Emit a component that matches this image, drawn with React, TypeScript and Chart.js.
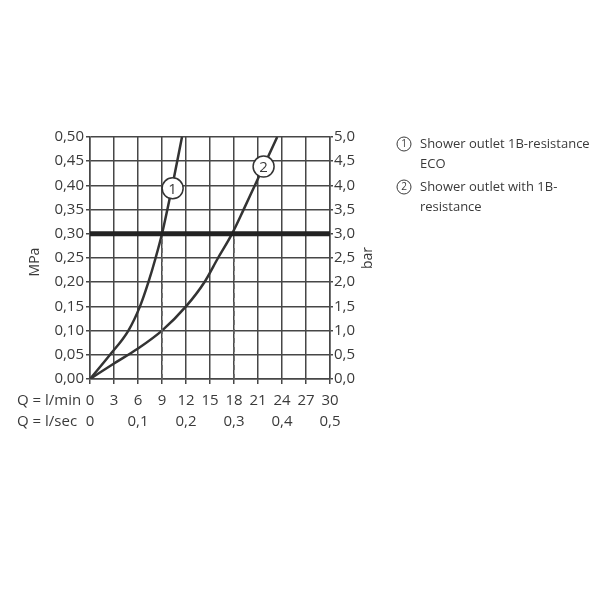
import React, { useEffect, useRef } from "react";
import { Chart, registerables } from "chart.js";
Chart.register(...registerables);

// Curve 1: Shower outlet 1B-resistance ECO  (flow l/min, pressure MPa)
const curve1Flow = [0, 2.5, 4.8, 6.25, 7.3, 8.2, 9.0, 10.3, 11.5];
const curve1Pressure = [0, 0.05, 0.10, 0.15, 0.20, 0.25, 0.30, 0.40, 0.50];
// Curve 2: Shower outlet with 1B-resistance
const curve2Flow = [0, 3.0, 6.0, 9.0, 12.0, 14.3, 16.0, 17.75, 19.2, 20.6, 23.4];
const curve2Pressure = [0, 0.032, 0.063, 0.10, 0.15, 0.20, 0.25, 0.30, 0.35, 0.40, 0.50];
// reference pressure line and flow readings at that pressure
const refPressure = 0.30;
const refFlows = [9, 18];
// curve label anchors (flow, pressure)
const labelPoints = [
  { text: "1", x: 10.33, y: 0.394 },
  { text: "2", x: 21.7, y: 0.439 },
];
const legendLines = [
  { mark: "1", lines: ["Shower outlet 1B-resistance", "ECO"] },
  { mark: "2", lines: ["Shower outlet with 1B-", "resistance"] },
];
const xTitleMin = "Q = l/min";
const xTitleSec = "Q = l/sec";
const yTitleLeft = "MPa";
const yTitleRight = "bar";

const FONT = "'Open Sans', 'Liberation Sans', sans-serif";
const TXT = "#3a3a3a";
const GRID = "#474747";

const toPts = (xs: number[], ys: number[]) => xs.map((x, i) => ({ x, y: ys[i] }));

export default function App() {
  const ref = useRef<HTMLCanvasElement>(null);
  useEffect(() => {
    if (!ref.current) return;
    const textPlugin = {
      id: "texts",
      afterDatasetsDraw(chart: any) {
        const ctx = chart.ctx;
        const xs = chart.scales.x;
        const ys = chart.scales.y;
        ctx.save();
        for (const lp of labelPoints) {
          const px = xs.getPixelForValue(lp.x);
          const py = ys.getPixelForValue(lp.y);
          ctx.beginPath();
          ctx.arc(px, py, 10.5, 0, Math.PI * 2);
          ctx.fillStyle = "#fff";
          ctx.fill();
          ctx.lineWidth = 1.5;
          ctx.strokeStyle = "#333";
          ctx.stroke();
          ctx.fillStyle = TXT;
          ctx.font = `15px ${FONT}`;
          ctx.textAlign = "center";
          ctx.textBaseline = "middle";
          ctx.fillText(lp.text, px, py + 1);
        }
        ctx.restore();
      },
      afterDraw(chart: any) {
        const ctx = chart.ctx;
        ctx.save();
        ctx.fillStyle = TXT;
        ctx.font = `15px ${FONT}`;
        ctx.textAlign = "left";
        ctx.textBaseline = "middle";
        ctx.fillText(xTitleMin, 17, 401);
        ctx.fillText(xTitleSec, 17, 422);
        // axis titles
        ctx.font = `14px ${FONT}`;
        ctx.textAlign = "center";
        ctx.save();
        ctx.translate(35, 262);
        ctx.rotate(-Math.PI / 2);
        ctx.fillText(yTitleLeft, 0, 0);
        ctx.restore();
        ctx.save();
        ctx.translate(368.5, 258);
        ctx.rotate(-Math.PI / 2);
        ctx.fillText(yTitleRight, 0, 0);
        ctx.restore();
        // legend
        let y = 144;
        for (const item of legendLines) {
          ctx.beginPath();
          ctx.arc(404, y, 7, 0, Math.PI * 2);
          ctx.lineWidth = 1;
          ctx.strokeStyle = TXT;
          ctx.stroke();
          ctx.font = `10px ${FONT}`;
          ctx.textAlign = "center";
          ctx.fillText(item.mark, 404, y + 0.5);
          ctx.font = `13px ${FONT}`;
          ctx.textAlign = "left";
          item.lines.forEach((l, i) => {
            ctx.fillText(l, 420, y + i * 20);
          });
          y += 43;
        }
        ctx.restore();
      },
    };

    const chart = new Chart(ref.current, {
      type: "scatter",
      data: {
        datasets: [
          {
            data: [
              { x: 0, y: refPressure },
              { x: 30, y: refPressure },
            ],
            showLine: true,
            borderColor: "#222",
            borderWidth: 5,
            pointRadius: 0,
          },
          ...refFlows.map((f) => ({
            data: [
              { x: f, y: 0 },
              { x: f, y: refPressure },
            ],
            showLine: true,
            borderColor: "#666",
            borderWidth: 1.5,
            borderDash: [5, 4],
            pointRadius: 0,
          })),
          {
            data: toPts(curve1Flow, curve1Pressure),
            showLine: true,
            borderColor: "#333",
            borderWidth: 2.5,
            pointRadius: 0,
            cubicInterpolationMode: "monotone",
          },
          {
            data: toPts(curve2Flow, curve2Pressure),
            showLine: true,
            borderColor: "#333",
            borderWidth: 2.5,
            pointRadius: 0,
            cubicInterpolationMode: "monotone",
          },
        ] as any,
      },
      options: {
        animation: false,
        responsive: false,
        layout: { padding: { top: 137, left: 0, right: 0, bottom: 0 } },
        plugins: { legend: { display: false }, tooltip: { enabled: false } },
        scales: {
          x: {
            type: "linear",
            position: "bottom",
            weight: 0,
            min: 0,
            max: 30,
            ticks: {
              stepSize: 3,
              color: TXT,
              font: { size: 15, family: FONT },
              padding: 8,
              maxRotation: 0,
              autoSkip: false,
            },
            grid: { color: GRID, lineWidth: 1.5, tickLength: 5 },
            border: { color: GRID, width: 1.5 },
            afterFit: (s: any) => {
              s.height = 26;
            },
          },
          x2: {
            type: "linear",
            position: "bottom",
            weight: 1,
            min: 0,
            max: 0.5,
            ticks: {
              stepSize: 0.1,
              color: TXT,
              font: { size: 15, family: FONT },
              padding: 0,
              maxRotation: 0,
              autoSkip: false,
              callback: (v: any) => (Number(v) === 0 ? "0" : Number(v).toFixed(1).replace(".", ",")),
            },
            grid: { display: false },
            border: { display: false },
            afterFit: (s: any) => {
              s.height = 195;
            },
          },
          y: {
            type: "linear",
            position: "left",
            min: 0,
            max: 0.5,
            ticks: {
              stepSize: 0.05,
              color: TXT,
              font: { size: 15, family: FONT },
              padding: 2,
              callback: (v: any) => Number(v).toFixed(2).replace(".", ","),
            },
            grid: { color: GRID, lineWidth: 1.5, tickLength: 4 },
            border: { color: GRID, width: 1.5 },
            afterFit: (s: any) => {
              s.width = 90;
            },
          },
          y2: {
            type: "linear",
            position: "right",
            min: 0,
            max: 5,
            ticks: {
              stepSize: 0.5,
              color: TXT,
              font: { size: 15, family: FONT },
              padding: 1,
              callback: (v: any) => Number(v).toFixed(1).replace(".", ","),
            },
            grid: { drawOnChartArea: false, color: GRID, lineWidth: 1.5, tickLength: 3 },
            border: { color: GRID, width: 1.5 },
            afterFit: (s: any) => {
              s.width = 270;
            },
          },
        },
      } as any,
      plugins: [textPlugin],
    });
    return () => chart.destroy();
  }, []);
  return (
    <div style={{ position: "fixed", left: 0, top: 0, width: 600, height: 600, background: "#fff" }}>
      <canvas ref={ref} width={600} height={600} />
    </div>
  );
}
